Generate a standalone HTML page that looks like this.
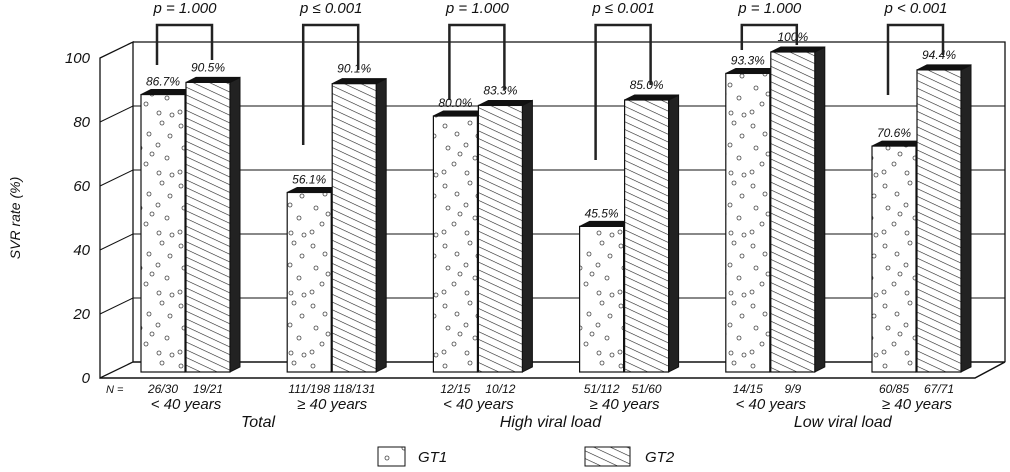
<!DOCTYPE html>
<html><head><meta charset="utf-8"><style>
body{margin:0;background:#fff}
svg text{font-family:"Liberation Sans",sans-serif;font-style:italic;fill:#111}
</style></head><body>
<svg id="c" width="1010" height="467" viewBox="0 0 1010 467">
<defs>
<pattern id="dots" width="44" height="60" patternUnits="userSpaceOnUse">
<rect width="44" height="60" fill="#fff"/>
<g fill="none" stroke="#444" stroke-width="0.8">
<circle cx="5" cy="6" r="2"/><circle cx="30" cy="3" r="2"/><circle cx="38" cy="16" r="2"/>
<circle cx="17" cy="14" r="2"/><circle cx="8" cy="28" r="2"/><circle cx="26" cy="25" r="2"/>
<circle cx="35" cy="38" r="2"/><circle cx="14" cy="44" r="2"/><circle cx="4" cy="52" r="2"/>
<circle cx="27" cy="53" r="2"/><circle cx="40" cy="55" r="2"/><circle cx="20" cy="34" r="2"/>
</g></pattern>
<pattern id="hatch" width="7" height="7" patternUnits="userSpaceOnUse" patternTransform="rotate(25)">
<rect width="7" height="7" fill="#fff"/><line x1="0" y1="0" x2="7" y2="0" stroke="#222" stroke-width="1.2"/>
</pattern>
</defs>
<g id="frame"></g>
<g id="bars"></g>
<g id="labels"></g>
<text x="20" y="218" font-size="14" text-anchor="middle" transform="rotate(-90 20 218)">SVR rate (%)</text>
<g>
<rect x="378" y="447" width="27" height="19" fill="url(#dots)" stroke="#111"/>
<text x="418" y="462" font-size="15">GT1</text>
<rect x="585" y="447" width="45" height="19" fill="url(#hatch)" stroke="#111"/>
<text x="645" y="462" font-size="15">GT2</text>
</g>
</svg>
<script>
const gt1 = [86.7, 56.1, 80.0, 45.5, 93.3, 70.6];
const gt2 = [90.5, 90.1, 83.3, 85.0, 100, 94.4];
const gt1Labels = ["86.7%","56.1%","80.0%","45.5%","93.3%","70.6%"];
const gt2Labels = ["90.5%","90.1%","83.3%","85.0%","100%","94.4%"];
const nGt1 = ["26/30","111/198","12/15","51/112","14/15","60/85"];
const nGt2 = ["19/21","118/131","10/12","51/60","9/9","67/71"];
const ageLabels = ["< 40 years","\u2265 40 years","< 40 years","\u2265 40 years","< 40 years","\u2265 40 years"];
const pValues = ["p = 1.000","p \u2264 0.001","p = 1.000","p \u2264 0.001","p = 1.000","p < 0.001"];
const groupLabels = ["Total","High viral load","Low viral load"];
const yTicks = [0,20,40,60,80,100];

const NS="http://www.w3.org/2000/svg";
const S=3.2;
const yBar=v=>372-v*S, yFront=v=>378-v*S, yBack=v=>362-v*S;
const xPair=i=>141+i*146.2;
function mk(tag,attrs,parent,txt){const e=document.createElementNS(NS,tag);for(const k in attrs)e.setAttribute(k,attrs[k]);if(txt!==undefined)e.textContent=txt;parent.appendChild(e);return e;}
const frame=document.getElementById('frame'),bars=document.getElementById('bars'),labels=document.getElementById('labels');

let w=mk('polygon',{points:"100,"+yFront(100)+" 133,"+yBack(100)+" 133,362 100,378",fill:"#fff",stroke:"#111","stroke-width":1.3},frame);


let bw=mk('polyline',{points:"133,"+yBack(100)+" 1005,"+yBack(100)+" 1005,362",fill:"none",stroke:"#111","stroke-width":1.3},frame);


let fl=mk('polyline',{points:"100,378 975,378 1005,362 133,362",fill:"none",stroke:"#111","stroke-width":1.5},frame);


yTicks.forEach(t=>{
 if(t>0&&t<100){
  let g=mk('polyline',{points:"100,"+yFront(t)+" 133,"+yBack(t)+" 1005,"+yBack(t),fill:"none",stroke:"#111","stroke-width":1},frame);
  
  
 }
 let tx=mk('text',{x:90,y:yFront(t)+5,"font-size":15,"text-anchor":"end"},frame,String(t));
 
 
});

function bar(x,v,fill,name){
 const g=mk('g',{},bars);
 
 
 const top=yBar(v),W=44,D=10,U=5;
 mk('polygon',{points:`${x+W},${top} ${x+W+D},${top-U} ${x+W+D},${372-U} ${x+W},372`,fill:"#222",stroke:"#111"},g);
 mk('polygon',{points:`${x},${top} ${x+D},${top-U} ${x+W+D},${top-U} ${x+W},${top}`,fill:"#111",stroke:"#111"},g);
 mk('rect',{x:x,y:top,width:W,height:372-top,fill:fill,stroke:"#111","stroke-width":1.2},g);
}
const legEnd1=[65,145,100,160,50,95], legEnd2=[60,70,90,85,45,55];
for(let i=0;i<6;i++){
 const x=xPair(i);
 bar(x,gt1[i],"url(#dots)","bar-gt1-"+(i+1));
 bar(x+45,gt2[i],"url(#hatch)","bar-gt2-"+(i+1));
 let a=mk('text',{x:x+22,y:yBar(gt1[i])-9,"font-size":12,"text-anchor":"middle"},labels,gt1Labels[i]);
 
 
 let b=mk('text',{x:x+67,y:yBar(gt2[i])-11,"font-size":12,"text-anchor":"middle"},labels,gt2Labels[i]);
 
 
 let n1=mk('text',{x:x+22,y:393,"font-size":12,"text-anchor":"middle"},labels,nGt1[i]);
 
 
 let n2=mk('text',{x:x+67,y:393,"font-size":12,"text-anchor":"middle"},labels,nGt2[i]);
 
 
 let ag=mk('text',{x:x+45,y:409,"font-size":15,"text-anchor":"middle"},labels,ageLabels[i]);
 
 
 let br=mk('polyline',{points:`${x+16},${legEnd1[i]} ${x+16},25 ${x+71},25 ${x+71},${legEnd2[i]}`,fill:"none",stroke:"#222","stroke-width":2.5},labels);
 
 
 let p=mk('text',{x:x+44,y:13,"font-size":15,"text-anchor":"middle"},labels,pValues[i]);
 
 
}
let nl=mk('text',{x:106,y:393,"font-size":11},labels,"N =");


groupLabels.forEach((g,k)=>{
 let t=mk('text',{x:xPair(2*k)+117,y:427,"font-size":16,"text-anchor":"middle"},labels,g);
 
 
});
</script>
</body></html>
